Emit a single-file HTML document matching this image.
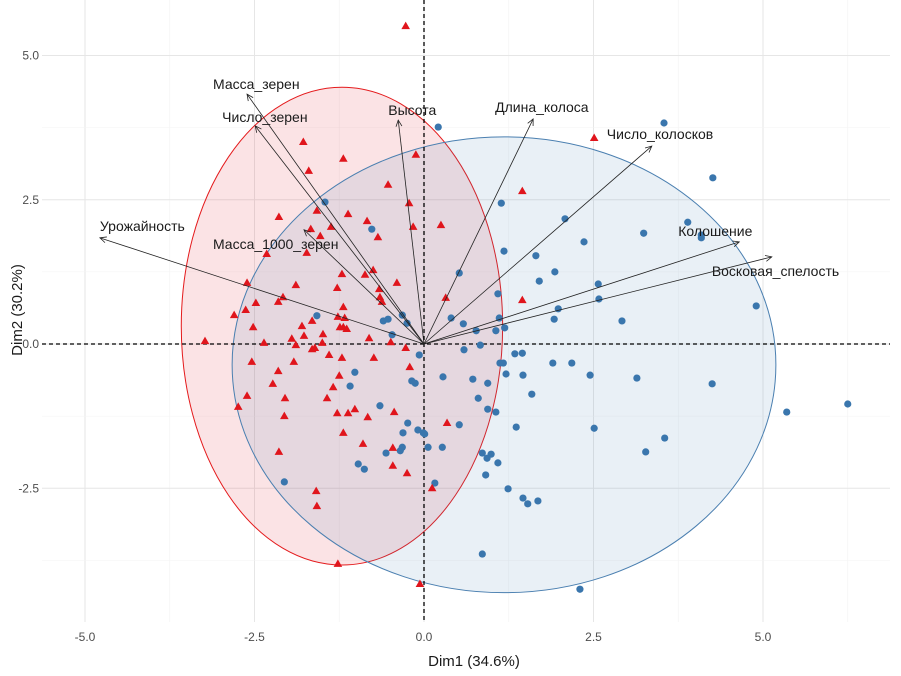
<!DOCTYPE html>
<html><head><meta charset="utf-8"><style>
body{margin:0;background:#fff}
svg{display:block;font-family:"Liberation Sans",sans-serif}
</style></head><body>
<svg id="c" width="901" height="676"></svg>
<script>
const xTicks=[-5,-2.5,0,2.5,5];
const yTicks=[-2.5,0,2.5,5];
const xTickLabels=["-5.0","-2.5","0.0","2.5","5.0"];
const yTickLabels=["-2.5","0.0","2.5","5.0"];
const blueX=[0.21,3.54,4.26,1.14,2.08,3.89,3.24,4.09,4.09,2.36,1.18,1.65,0.52,1.93,1.70,2.57,4.90,2.58,1.09,1.98,1.92,2.92,0.40,0.58,1.11,0.77,1.06,1.19,0.83,0.59,1.34,1.45,1.17,1.12,1.90,2.18,1.21,1.46,2.45,3.14,4.25,0.28,0.72,0.94,1.59,0.80,5.35,6.25,0.94,1.06,0.52,1.36,2.51,3.55,3.27,-0.01,0.06,0.27,0.86,0.99,0.93,1.09,0.91,0.16,1.24,1.46,1.53,1.68,0.86,2.30,-1.46,-0.77,-1.58,-0.60,-0.53,-0.32,-0.25,-0.47,-0.07,-1.02,-1.09,-0.18,-0.13,-0.65,-0.24,-0.31,-0.09,0.01,-0.32,-0.35,-0.56,-0.97,-0.88,-2.06];
const blueY=[3.76,3.83,2.88,2.44,2.17,2.11,1.92,1.89,1.84,1.77,1.61,1.53,1.23,1.25,1.09,1.04,0.66,0.78,0.87,0.61,0.43,0.40,0.45,0.35,0.45,0.23,0.23,0.28,-0.02,-0.10,-0.17,-0.16,-0.33,-0.33,-0.33,-0.33,-0.52,-0.54,-0.54,-0.59,-0.69,-0.57,-0.61,-0.68,-0.87,-0.94,-1.18,-1.04,-1.13,-1.18,-1.40,-1.44,-1.46,-1.63,-1.87,-1.54,-1.79,-1.79,-1.89,-1.91,-1.98,-2.06,-2.27,-2.41,-2.51,-2.67,-2.77,-2.72,-3.64,-4.25,2.46,1.99,0.49,0.40,0.43,0.50,0.36,0.16,-0.19,-0.49,-0.73,-0.64,-0.68,-1.07,-1.37,-1.54,-1.49,-1.56,-1.79,-1.85,-1.89,-2.08,-2.17,-2.39];
const redX=[-0.27,-1.78,-1.19,-1.70,-0.12,-0.53,-0.22,-1.58,-2.14,-1.12,-0.84,-1.37,-1.67,-0.68,-1.53,-0.16,-1.73,-2.32,-1.21,-0.87,-0.75,-0.40,-1.28,-1.89,-2.08,-2.48,-2.15,-1.19,-0.66,-0.65,-0.62,-2.63,-2.80,-2.52,-1.27,-1.17,-1.19,-1.24,-1.14,-1.65,-1.80,-1.77,-1.49,-1.95,-1.89,-3.23,-2.36,-1.65,-1.61,-1.50,-0.81,-0.49,-0.27,-2.54,-1.92,-1.40,-1.21,-0.74,-0.21,-2.15,-2.23,-1.25,-1.34,-2.61,-2.74,-2.05,-1.43,-1.28,-1.12,-1.02,-2.06,-0.83,-0.44,-1.19,-0.90,-0.46,-0.46,-0.25,-2.14,-1.59,-1.58,0.12,2.51,1.45,0.25,0.32,1.45,0.34,-1.27,-0.06,-2.61];
const redY=[5.51,3.50,3.21,3.00,3.28,2.76,2.44,2.31,2.20,2.25,2.13,2.03,1.99,1.85,1.87,2.03,1.58,1.56,1.21,1.20,1.28,1.06,0.97,1.02,0.81,0.71,0.73,0.64,0.95,0.81,0.73,0.59,0.50,0.29,0.47,0.45,0.29,0.29,0.26,0.40,0.31,0.14,0.17,0.09,-0.02,0.05,0.02,-0.09,-0.07,0.02,0.10,0.03,-0.07,-0.31,-0.31,-0.19,-0.24,-0.24,-0.40,-0.47,-0.69,-0.55,-0.75,-0.90,-1.09,-0.94,-0.94,-1.20,-1.20,-1.13,-1.25,-1.27,-1.18,-1.54,-1.73,-1.80,-2.11,-2.24,-1.87,-2.55,-2.81,-2.50,3.57,2.65,2.06,0.80,0.76,-1.37,-3.81,-4.16,1.06];
const varNames=["Масса_зерен","Число_зерен","Высота","Длина_колоса","Число_колосков","Колошение","Восковая_спелость","Урожайность","Масса_1000_зерен"];
const varX=[-2.61,-2.49,-0.38,1.61,3.36,4.65,5.13,-4.78,-1.77];
const varY=[4.33,3.78,3.88,3.90,3.43,1.77,1.51,1.84,1.98];
const ellRed=[-1.21,0.31,2.37,4.14];
const ellBlue=[1.18,-0.36,4.01,3.95];

const X0=424,KX=67.8,Y0=344,KY=57.7;
const sx=v=>X0+v*KX, sy=v=>Y0-v*KY;
const svg=document.getElementById('c');
const NS='http://www.w3.org/2000/svg';
function mk(t,a,p){const e=document.createElementNS(NS,t);for(const k in a)e.setAttribute(k,a[k]);(p||svg).appendChild(e);return e;}
const L=42,R=890,T=0,B=622;
// grid
for(let v=-6.25;v<=6.25;v+=1.25){const x=sx(v);if(x<L||x>R)continue;const major=Math.abs(v/2.5-Math.round(v/2.5))<1e-6;
 const g=mk('line',{x1:x,x2:x,y1:T,y2:B,stroke:major?'#e6e6e6':'#f3f3f3','stroke-width':major?1:0.6});
 
 }
for(let v=-5;v<=6.25;v+=1.25){const y=sy(v);if(y<T||y>B)continue;const major=Math.abs(v/2.5-Math.round(v/2.5))<1e-6;
 const g=mk('line',{x1:L,x2:R,y1:y,y2:y,stroke:major?'#e6e6e6':'#f3f3f3','stroke-width':major?1:0.6});
 
 }
// ellipses
let e1=mk('ellipse',{cx:sx(ellRed[0]),cy:sy(ellRed[1]),rx:ellRed[2]*KX,ry:ellRed[3]*KY,fill:'rgba(230,60,70,0.14)',stroke:'#e41a1c','stroke-width':1});


let e2=mk('ellipse',{cx:sx(ellBlue[0]),cy:sy(ellBlue[1]),rx:ellBlue[2]*KX,ry:ellBlue[3]*KY,fill:'rgba(70,130,180,0.12)',stroke:'#4a7fb0','stroke-width':1});


// zero lines
let zx=mk('line',{x1:L,x2:R,y1:sy(0),y2:sy(0),stroke:'#000','stroke-dasharray':'4,3','stroke-width':1.3});


let zy=mk('line',{x1:sx(0),x2:sx(0),y1:T,y2:B,stroke:'#000','stroke-dasharray':'4,3','stroke-width':1.3});


// points
for(let i=0;i<blueX.length;i++){const c=mk('circle',{cx:sx(blueX[i]),cy:sy(blueY[i]),r:3.6,fill:'#3a76ad'});
 
 }
for(let i=0;i<redX.length;i++){const x=sx(redX[i]),y=sy(redY[i]);const p=mk('polygon',{points:`${x},${y-4.5} ${x-4.3},${y+3} ${x+4.3},${y+3}`,fill:'#e0151c'});
 
 }
// arrows
const anchors=['start','start','start','start','start','start','start','start','start'];
const ldx=[-34,-33,-10,-38,-45,-61,-60,0,-91];
const ldy=[-5,-4,-5,-7,-7,-6,19,-7,19];
for(let i=0;i<varX.length;i++){const x=sx(varX[i]),y=sy(varY[i]);
 const a=mk('line',{x1:sx(0),y1:sy(0),x2:x,y2:y,stroke:'#222','stroke-width':0.8});
 
 
 const ang=Math.atan2(y-sy(0),x-sx(0));
 const h=mk('path',{d:`M${x+7*Math.cos(ang+2.7)},${y+7*Math.sin(ang+2.7)} L${x},${y} L${x+7*Math.cos(ang-2.7)},${y+7*Math.sin(ang-2.7)}`,fill:'none',stroke:'#222','stroke-width':0.8});
 
 
 const t=mk('text',{x:x+ldx[i],y:y+ldy[i],'font-size':14,fill:'#1a1a1a','text-anchor':anchors[i]});
 t.textContent=varNames[i];
 
 }
// ticks
xTicks.forEach((v,i)=>{const t=mk('text',{x:sx(v),y:641,'font-size':12,fill:'#4d4d4d','text-anchor':'middle'});t.textContent=xTickLabels[i];
 
 });
yTicks.forEach((v,i)=>{const t=mk('text',{x:39,y:sy(v)+4,'font-size':12,fill:'#4d4d4d','text-anchor':'end'});t.textContent=yTickLabels[i];
 
 });
const xt=mk('text',{x:474,y:666,'font-size':15,fill:'#1a1a1a','text-anchor':'middle'});xt.textContent='Dim1 (34.6%)';


const yt=mk('text',{x:0,y:0,'font-size':15,fill:'#1a1a1a','text-anchor':'middle',transform:'translate(22,310) rotate(-90)'});yt.textContent='Dim2 (30.2%)';


</script>
</body></html>
